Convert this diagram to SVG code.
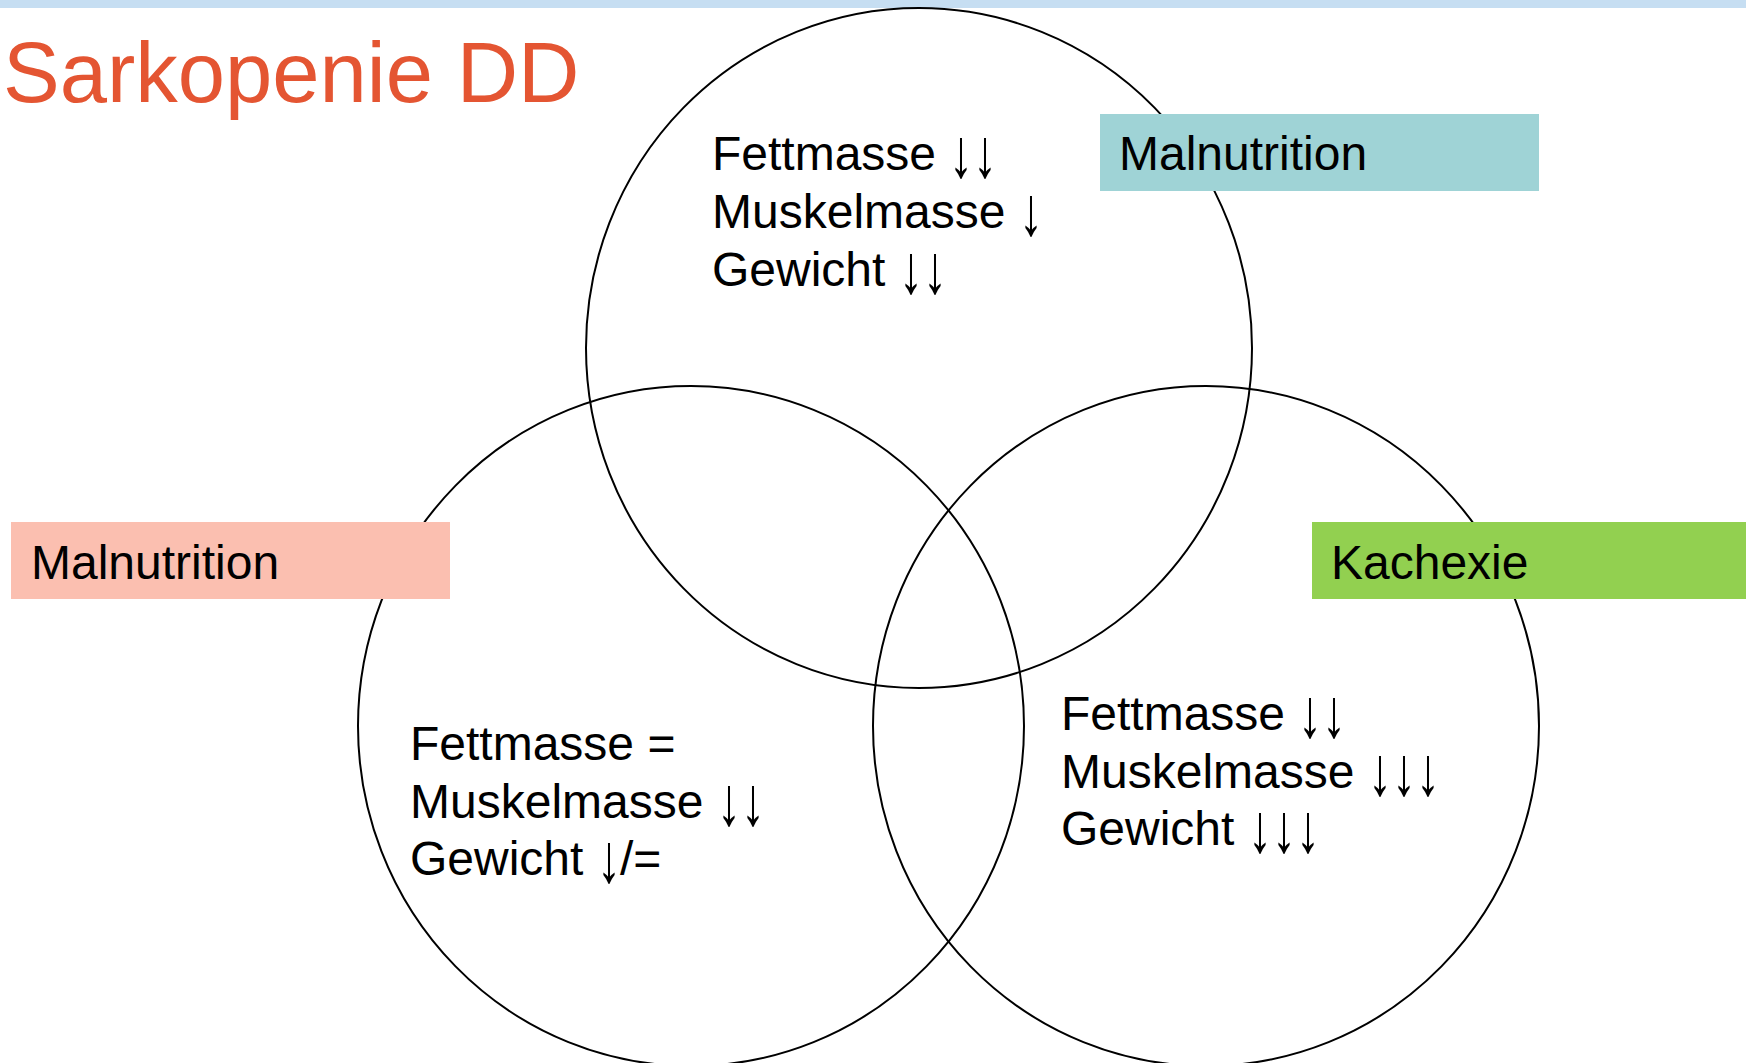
<svg xmlns="http://www.w3.org/2000/svg" width="1746" height="1063" viewBox="0 0 1746 1063">
<style>
.t{font-family:"Liberation Sans",Arial,sans-serif;font-size:48px;fill:#000}
.c{fill:none;stroke:#000;stroke-width:2}
</style>
<rect x="0" y="0" width="1746" height="1063" fill="#fff"/>
<rect x="0" y="0" width="1746" height="8" fill="#C6DEF2"/>
<text x="3" y="102" font-family="Liberation Sans,Arial,sans-serif" font-size="85" fill="#E45532">Sarkopenie DD</text>
<g id="circles">
<ellipse id="circle-top" class="c" cx="919" cy="348" rx="333" ry="340"/>
<ellipse id="circle-left" class="c" cx="691" cy="726" rx="333" ry="340"/>
<ellipse id="circle-right" class="c" cx="1206" cy="726" rx="333" ry="340"/>
</g>
<g id="label-top">
<rect x="1100" y="114" width="439" height="77" fill="#9FD3D6"/>
<text class="t" x="1119" y="170">Malnutrition</text>
</g>
<g id="label-left">
<rect x="11" y="522" width="439" height="77" fill="#FBBFB0"/>
<text class="t" x="31" y="579">Malnutrition</text>
</g>
<g id="label-right">
<rect x="1312" y="522" width="434" height="77" fill="#92D050"/>
<text class="t" x="1331" y="579">Kachexie</text>
</g>
<g id="text-top">
<text class="t" x="712" y="170">Fettmasse</text>
<text class="t" transform="translate(949,177) scale(1,1.45)">↓↓</text>
<text class="t" x="712" y="228">Muskelmasse</text>
<text class="t" transform="translate(1019,235) scale(1,1.45)">↓</text>
<text class="t" x="712" y="286">Gewicht</text>
<text class="t" transform="translate(899,293) scale(1,1.45)">↓↓</text>
</g>
<g id="text-left">
<text class="t" x="410" y="760">Fettmasse =</text>
<text class="t" x="410" y="818">Muskelmasse</text>
<text class="t" transform="translate(717,825) scale(1,1.45)">↓↓</text>
<text class="t" x="410" y="875">Gewicht</text>
<text class="t" transform="translate(597,882) scale(1,1.45)">↓</text>
<text class="t" x="620" y="875">/=</text>
</g>
<g id="text-right">
<text class="t" x="1061" y="730">Fettmasse</text>
<text class="t" transform="translate(1298,737) scale(1,1.45)">↓↓</text>
<text class="t" x="1061" y="788">Muskelmasse</text>
<text class="t" transform="translate(1368,795) scale(1,1.45)">↓↓↓</text>
<text class="t" x="1061" y="845">Gewicht</text>
<text class="t" transform="translate(1248,852) scale(1,1.45)">↓↓↓</text>
</g>
</svg>
